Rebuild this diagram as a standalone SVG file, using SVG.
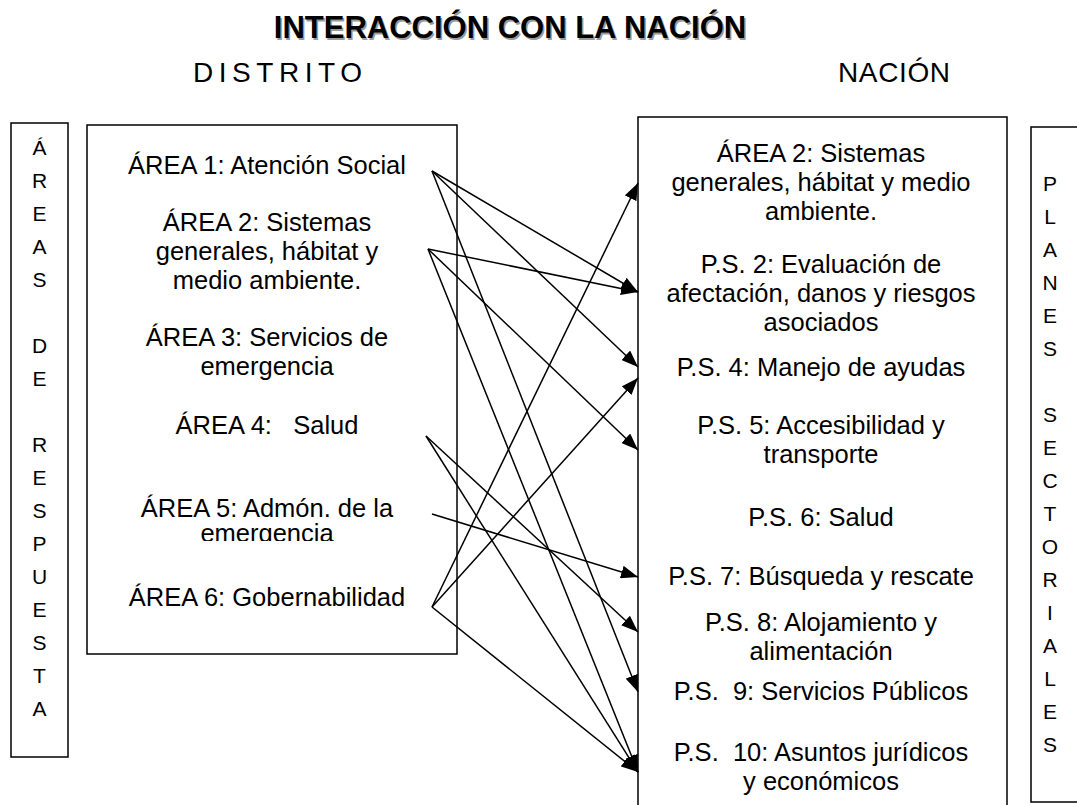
<svg xmlns="http://www.w3.org/2000/svg" width="1077" height="805" viewBox="0 0 1077 805">
<style>
  .t { font-family: "Liberation Sans", Arial, sans-serif; font-size: 25.5px; fill: #000; text-anchor: middle; }
  .v { font-family: "Liberation Sans", Arial, sans-serif; font-size: 21px; fill: #000; text-anchor: middle; }
  .h { font-family: "Liberation Sans", Arial, sans-serif; font-size: 28px; fill: #000; text-anchor: middle; }
  .title { font-family: "Liberation Sans", Arial, sans-serif; font-size: 31px; font-weight: bold; text-anchor: middle; }
  .box { fill: none; stroke: #000; stroke-width: 1.5; }
  .c line { stroke: #000; stroke-width: 1.5; marker-end: url(#ah); }
</style>
<defs>
  <marker id="ah" markerUnits="userSpaceOnUse" viewBox="0 0 17 13" markerWidth="17" markerHeight="13" refX="17" refY="6.5" orient="auto">
    <path d="M0,0 L17,6.5 L0,13 z" fill="#000"/>
  </marker>
  <clipPath id="clip5"><rect x="90" y="480" width="360" height="61"/></clipPath>
</defs>
<rect width="1077" height="805" fill="#fff"/>

<g id="title">
  <text class="title" x="511.5" y="39.5" fill="#9a9a9a">INTERACCIÓN CON LA NACIÓN</text>
  <text class="title" x="510" y="38" fill="#000">INTERACCIÓN CON LA NACIÓN</text>
</g>
<g id="heading-distrito"><text class="h" x="277.5" y="82" textLength="169" lengthAdjust="spacing">DISTRITO</text></g>
<g id="heading-nacion"><text class="h" x="894" y="82" textLength="112" lengthAdjust="spacing">NACIÓN</text></g>

<g id="areas-de-respuesta">
  <rect class="box" x="11" y="123" width="57" height="634"/>
  <text class="v" x="39.5" y="155">Á</text>
  <text class="v" x="39.5" y="188">R</text>
  <text class="v" x="39.5" y="221">E</text>
  <text class="v" x="39.5" y="254">A</text>
  <text class="v" x="39.5" y="287">S</text>
  <text class="v" x="39.5" y="353">D</text>
  <text class="v" x="39.5" y="386">E</text>
  <text class="v" x="39.5" y="452">R</text>
  <text class="v" x="39.5" y="485">E</text>
  <text class="v" x="39.5" y="518">S</text>
  <text class="v" x="39.5" y="551">P</text>
  <text class="v" x="39.5" y="584">U</text>
  <text class="v" x="39.5" y="617">E</text>
  <text class="v" x="39.5" y="650">S</text>
  <text class="v" x="39.5" y="683">T</text>
  <text class="v" x="39.5" y="716">A</text>
</g>

<g id="distrito-box"><rect class="box" x="87" y="125" width="370" height="529"/></g>
<g id="area1"><text class="t" x="267" y="174">ÁREA 1: Atención Social</text></g>
<g id="area2">
  <text class="t" x="267" y="231">ÁREA 2: Sistemas</text>
  <text class="t" x="267" y="260">generales, hábitat y</text>
  <text class="t" x="267" y="289">medio ambiente.</text>
</g>
<g id="area3">
  <text class="t" x="267" y="346">ÁREA 3: Servicios de</text>
  <text class="t" x="267" y="375">emergencia</text>
</g>
<g id="area4"><text class="t" x="267" y="434" xml:space="preserve">ÁREA 4:   Salud</text></g>
<g id="area5" clip-path="url(#clip5)">
  <text class="t" x="267" y="517">ÁREA 5: Admón. de la</text>
  <text class="t" x="267" y="542">emergencia</text>
</g>
<g id="area6"><text class="t" x="267" y="606">ÁREA 6: Gobernabilidad</text></g>

<g id="nacion-box"><rect class="box" x="638" y="117" width="369" height="700"/></g>
<g id="n-area2">
  <text class="t" x="821" y="162">ÁREA 2: Sistemas</text>
  <text class="t" x="821" y="191">generales, hábitat y medio</text>
  <text class="t" x="821" y="220">ambiente.</text>
</g>
<g id="ps2">
  <text class="t" x="821" y="273">P.S. 2: Evaluación de</text>
  <text class="t" x="821" y="302">afectación, danos y riesgos</text>
  <text class="t" x="821" y="331">asociados</text>
</g>
<g id="ps4"><text class="t" x="821" y="376">P.S. 4: Manejo de ayudas</text></g>
<g id="ps5">
  <text class="t" x="821" y="434">P.S. 5: Accesibilidad y</text>
  <text class="t" x="821" y="463">transporte</text>
</g>
<g id="ps6"><text class="t" x="821" y="526">P.S. 6: Salud</text></g>
<g id="ps7"><text class="t" x="821" y="585">P.S. 7: Búsqueda y rescate</text></g>
<g id="ps8">
  <text class="t" x="821" y="631">P.S. 8: Alojamiento y</text>
  <text class="t" x="821" y="660">alimentación</text>
</g>
<g id="ps9"><text class="t" x="821" y="700" xml:space="preserve">P.S.  9: Servicios Públicos</text></g>
<g id="ps10">
  <text class="t" x="821" y="761" xml:space="preserve">P.S.  10: Asuntos jurídicos</text>
  <text class="t" x="821" y="790">y económicos</text>
</g>

<g id="planes-sectoriales">
  <rect class="box" x="1031" y="127" width="60" height="675"/>
  <text class="v" x="1050" y="191">P</text>
  <text class="v" x="1050" y="224">L</text>
  <text class="v" x="1050" y="257">A</text>
  <text class="v" x="1050" y="290">N</text>
  <text class="v" x="1050" y="323">E</text>
  <text class="v" x="1050" y="356">S</text>
  <text class="v" x="1050" y="422">S</text>
  <text class="v" x="1050" y="455">E</text>
  <text class="v" x="1050" y="488">C</text>
  <text class="v" x="1050" y="521">T</text>
  <text class="v" x="1050" y="554">O</text>
  <text class="v" x="1050" y="587">R</text>
  <text class="v" x="1050" y="620">I</text>
  <text class="v" x="1050" y="653">A</text>
  <text class="v" x="1050" y="686">L</text>
  <text class="v" x="1050" y="719">E</text>
  <text class="v" x="1050" y="752">S</text>
</g>

<g id="connectors" class="c">
  <line x1="432" y1="171" x2="638" y2="292"/>
  <line x1="432" y1="171" x2="638" y2="367"/>
  <line x1="432" y1="171" x2="638" y2="692"/>
  <line x1="428" y1="249" x2="638" y2="292"/>
  <line x1="428" y1="249" x2="638" y2="450"/>
  <line x1="428" y1="249" x2="638" y2="772"/>
  <line x1="426" y1="436" x2="638" y2="632"/>
  <line x1="426" y1="436" x2="638" y2="772"/>
  <line x1="432" y1="514" x2="638" y2="577"/>
  <line x1="432" y1="607" x2="638" y2="183"/>
  <line x1="432" y1="607" x2="638" y2="378"/>
  <line x1="432" y1="607" x2="638" y2="772"/>
</g>
</svg>
